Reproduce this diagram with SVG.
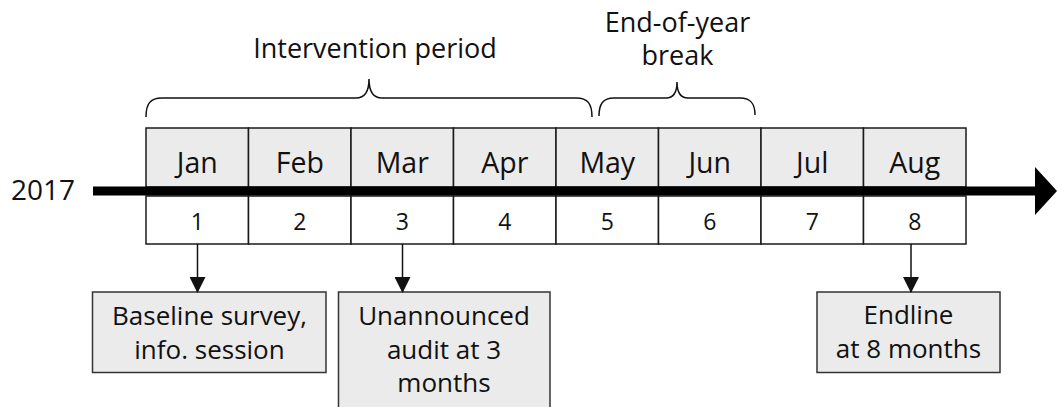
<svg xmlns="http://www.w3.org/2000/svg" width="1057" height="407" viewBox="0 0 1057 407">
<defs>
<style>
text{font-family:"Open Sans","Noto Sans","DejaVu Sans",sans-serif;fill:#111;text-anchor:middle}
.cell{fill:#ebebeb;stroke:#1a1a1a;stroke-width:1.5}
.num{fill:#fff;stroke:#1a1a1a;stroke-width:1.5}
.box{fill:#ebebeb;stroke:#333;stroke-width:1.5}
.m{font-size:28.5px}
.n{font-size:23px}
.lbl{font-size:27px}
.bt{font-size:26px}
.brace{fill:none;stroke:#111;stroke-width:1.5}
.conn{stroke:#111;stroke-width:1.5;fill:none}
</style>
<marker id="ah" markerWidth="16" markerHeight="16" refX="15" refY="8" orient="auto" markerUnits="userSpaceOnUse">
<path d="M0,0 L16,8 L0,16 Z" fill="#111"/>
</marker>
</defs>
<rect width="1057" height="407" fill="#fff"/>

<g id="month-cells">
<rect class="cell" x="146" y="128" width="102.5" height="59"/>
<rect class="cell" x="248.5" y="128" width="102.5" height="59"/>
<rect class="cell" x="351" y="128" width="102.5" height="59"/>
<rect class="cell" x="453.5" y="128" width="102.5" height="59"/>
<rect class="cell" x="556" y="128" width="102.5" height="59"/>
<rect class="cell" x="658.5" y="128" width="102.5" height="59"/>
<rect class="cell" x="761" y="128" width="102.5" height="59"/>
<rect class="cell" x="863.5" y="128" width="102.5" height="59"/>
<text class="m" x="197.25" y="172.5">Jan</text>
<text class="m" x="299.75" y="172.5">Feb</text>
<text class="m" x="402.25" y="172.5">Mar</text>
<text class="m" x="504.75" y="172.5">Apr</text>
<text class="m" x="607.25" y="172.5">May</text>
<text class="m" x="709.75" y="172.5">Jun</text>
<text class="m" x="812.25" y="172.5">Jul</text>
<text class="m" x="914.75" y="172.5">Aug</text>
</g>

<g id="number-cells">
<rect class="num" x="146" y="196" width="102.5" height="48"/>
<rect class="num" x="248.5" y="196" width="102.5" height="48"/>
<rect class="num" x="351" y="196" width="102.5" height="48"/>
<rect class="num" x="453.5" y="196" width="102.5" height="48"/>
<rect class="num" x="556" y="196" width="102.5" height="48"/>
<rect class="num" x="658.5" y="196" width="102.5" height="48"/>
<rect class="num" x="761" y="196" width="102.5" height="48"/>
<rect class="num" x="863.5" y="196" width="102.5" height="48"/>
<text class="n" x="197.25" y="230">1</text>
<text class="n" x="299.75" y="230">2</text>
<text class="n" x="402.25" y="230">3</text>
<text class="n" x="504.75" y="230">4</text>
<text class="n" x="607.25" y="230">5</text>
<text class="n" x="709.75" y="230">6</text>
<text class="n" x="812.25" y="230">7</text>
<text class="n" x="914.75" y="230">8</text>
</g>

<g id="timeline">
<rect x="93" y="186.5" width="943" height="9" fill="#000"/>
<polygon points="1035,167 1057,191 1035,215" fill="#000"/>
<text x="11" y="200" style="font-size:28px;text-anchor:start">2017</text>
</g>

<g id="intervention-period">
<path class="brace" d="M146,117 C146,104 150,98 162,98 L356,98 C364,98 369,92 369,79 C369,92 374,98 382,98 L576,98 C588,98 592,104 592,117"/>
<text class="lbl" x="375" y="58">Intervention period</text>
</g>

<g id="end-of-year-break">
<path class="brace" d="M599,116 C599,104 603,98 614,98 L666,98 C673,98 677,93 677,82 C677,93 681,98 688,98 L740,98 C751,98 755,104 755,115"/>
<text class="lbl" x="677.5" y="31.5">End-of-year</text>
<text class="lbl" x="677.5" y="65">break</text>
</g>

<g id="baseline">
<rect class="box" x="92.5" y="292" width="233.5" height="80.5"/>
<text class="bt" x="209.5" y="325">Baseline survey,</text>
<text class="bt" x="209.5" y="359">info. session</text>
</g>

<g id="audit">
<rect class="box" x="338.5" y="292" width="211.5" height="125"/>
<text class="bt" x="444" y="325">Unannounced</text>
<text class="bt" x="444" y="359">audit at 3</text>
<text class="bt" x="444" y="392">months</text>
</g>

<g id="endline">
<rect class="box" x="817" y="292" width="183" height="80.5"/>
<text class="bt" x="908.5" y="323.5">Endline</text>
<text class="bt" x="908.5" y="358">at 8 months</text>
</g>

<g id="connectors">
<line class="conn" x1="197.5" y1="244" x2="197.5" y2="292" marker-end="url(#ah)"/>
<line class="conn" x1="402.5" y1="244" x2="402.5" y2="292" marker-end="url(#ah)"/>
<line class="conn" x1="911" y1="244" x2="911" y2="292" marker-end="url(#ah)"/>
</g>
</svg>
